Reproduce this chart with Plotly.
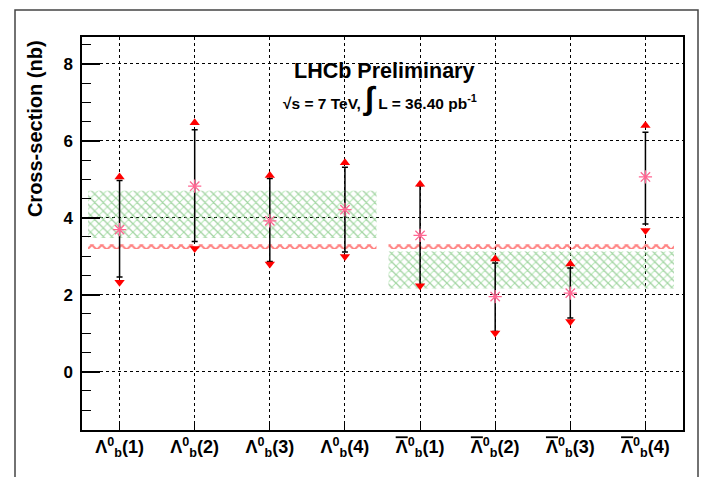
import plotly.graph_objects as go

# ---------------- data ----------------
OL = "<span style='text-decoration:overline'>Λ</span>"
tick_labels = [
    "Λ<sup>0</sup><sub>b</sub>(1)", "Λ<sup>0</sup><sub>b</sub>(2)",
    "Λ<sup>0</sup><sub>b</sub>(3)", "Λ<sup>0</sup><sub>b</sub>(4)",
    OL + "<sup>0</sup><sub>b</sub>(1)", OL + "<sup>0</sup><sub>b</sub>(2)",
    OL + "<sup>0</sup><sub>b</sub>(3)", OL + "<sup>0</sup><sub>b</sub>(4)",
]
x_pos = [0, 1, 2, 3, 4, 5, 6, 7]
central = [3.69, 4.82, 3.92, 4.21, 3.54, 1.95, 2.04, 5.06]
bar_top = [4.97, 6.29, 5.02, 5.31, 4.83, 2.82, 2.69, 6.22]
bar_bot = [2.46, 3.38, 2.86, 3.11, 2.25, 1.04, 1.39, 3.84]
red_top = [5.06, 6.47, 5.10, 5.43, 4.87, 2.93, 2.80, 6.40]
red_bot = [2.32, 3.20, 2.80, 2.99, 2.23, 1.00, 1.30, 3.67]

band_x_start = [-0.42, 3.58]
band_x_end = [3.42, 7.38]
band_lo = [3.47, 2.16]
band_hi = [4.70, 3.12]
ref_value = 3.25
ref_halfwidth = 0.06

FONT = "Liberation Sans, Arial, sans-serif"

fig = go.Figure()

# green hatched bands
for xs, xe, lo, hi in zip(band_x_start, band_x_end, band_lo, band_hi):
    fig.add_trace(go.Scatter(
        x=[xs, xe, xe, xs, xs], y=[lo, lo, hi, hi, lo],
        mode="lines", line=dict(width=0), fill="toself",
        fillcolor="rgba(0,0,0,0)",
        fillpattern=dict(shape="\\", fgcolor="rgb(180,180,180)",
                         bgcolor="rgba(0,0,0,0)", size=6, solidity=0.24),
        hoverinfo="skip", showlegend=False))
    fig.add_trace(go.Scatter(
        x=[xs, xe, xe, xs, xs], y=[lo, lo, hi, hi, lo],
        mode="lines", line=dict(width=0), fill="toself",
        fillcolor="rgba(0,0,0,0)",
        fillpattern=dict(shape="x", fgcolor="rgb(100,210,100)",
                         bgcolor="rgba(0,0,0,0)", size=6, solidity=0.32),
        hoverinfo="skip", showlegend=False))
    # red zigzag reference band
    fig.add_trace(go.Scatter(
        x=[xs, xe, xe, xs, xs],
        y=[ref_value - ref_halfwidth, ref_value - ref_halfwidth,
           ref_value + ref_halfwidth, ref_value + ref_halfwidth,
           ref_value - ref_halfwidth],
        mode="lines", line=dict(width=0), fill="toself",
        fillcolor="rgba(0,0,0,0)",
        fillpattern=dict(shape="x", fgcolor="rgb(255,0,0)",
                         bgcolor="rgba(0,0,0,0)", size=7, solidity=0.5),
        hoverinfo="skip", showlegend=False))

# error bars + central values
fig.add_trace(go.Scatter(
    x=x_pos, y=central, mode="markers",
    marker=dict(symbol="asterisk-open", size=11,
                line=dict(color="rgb(200,75,65)", width=1.3)),
    error_y=dict(type="data", symmetric=False,
                 array=[t - c for t, c in zip(bar_top, central)],
                 arrayminus=[c - b for c, b in zip(central, bar_bot)],
                 color="black", thickness=1.5, width=3),
    showlegend=False))

# red markers
fig.add_trace(go.Scatter(
    x=x_pos, y=red_top, mode="markers",
    marker=dict(symbol="triangle-up", size=9, color="red"),
    showlegend=False))
fig.add_trace(go.Scatter(
    x=x_pos, y=red_bot, mode="markers",
    marker=dict(symbol="triangle-down", size=9, color="red"),
    showlegend=False))

fig.update_layout(
    width=702, height=477,
    margin=dict(l=82, r=19, t=37, b=47),
    paper_bgcolor="white", plot_bgcolor="white",
    font=dict(family=FONT, color="black"),
    xaxis=dict(
        range=[-0.5, 7.5], tickvals=x_pos, ticktext=tick_labels,
        tickfont=dict(size=18, family=FONT, weight="bold"),
        ticks="inside", ticklen=8, tickwidth=1, tickcolor="black",
        showgrid=True, gridcolor="black", griddash="dot", gridwidth=1,
        showline=True, linecolor="black", linewidth=1.5, mirror=True,
        zeroline=False),
    yaxis=dict(
        range=[-1.52, 8.70], tickvals=[0, 2, 4, 6, 8],
        tickfont=dict(size=17, family=FONT, weight="bold"),
        ticks="inside", ticklen=18, tickwidth=1.5, tickcolor="black",
        minor=dict(dtick=0.5, ticks="inside", ticklen=9, tickcolor="black",
                   tickwidth=1.2, showgrid=False),
        showgrid=True, gridcolor="black", griddash="dot", gridwidth=1,
        showline=True, linecolor="black", linewidth=1.5, mirror=True,
        zeroline=False, ticklabelstandoff=4),
)

# axis title
fig.add_annotation(
    text="<b>Cross-section (nb)</b>", xref="paper", yref="paper",
    x=-0.078, y=0.766, textangle=-90, showarrow=False,
    font=dict(size=20, family=FONT), xanchor="center", yanchor="middle")

fig.add_annotation(
    text="<b>LHCb Preliminary</b>", xref="paper", yref="paper",
    x=(384 - 82) / 601, y=(430 - 71) / 393, showarrow=False,
    font=dict(size=21.5, family=FONT), xanchor="center", yanchor="middle")
fig.add_annotation(
    text="<b>√s = 7 TeV, <span style='font-size:32px'>∫</span> L = 36.40 pb<sup>-1</sup></b>",
    xref="paper", yref="paper",
    x=(380 - 82) / 601, y=(430 - 99) / 393, showarrow=False,
    font=dict(size=15.5, family=FONT), xanchor="center", yanchor="middle")

# outer canvas frame
fig.add_shape(type="rect", xref="paper", yref="paper",
              x0=(15 - 82) / 601, x1=(698 - 82) / 601,
              y0=(430 - 490) / 393, y1=(430 - 10) / 393,
              line=dict(color="#444", width=1.5), layer="below")

fig.write_html("out.html", config={"displayModeBar": False},
               post_script="document.body.style.margin='0';document.body.style.padding='0';")
